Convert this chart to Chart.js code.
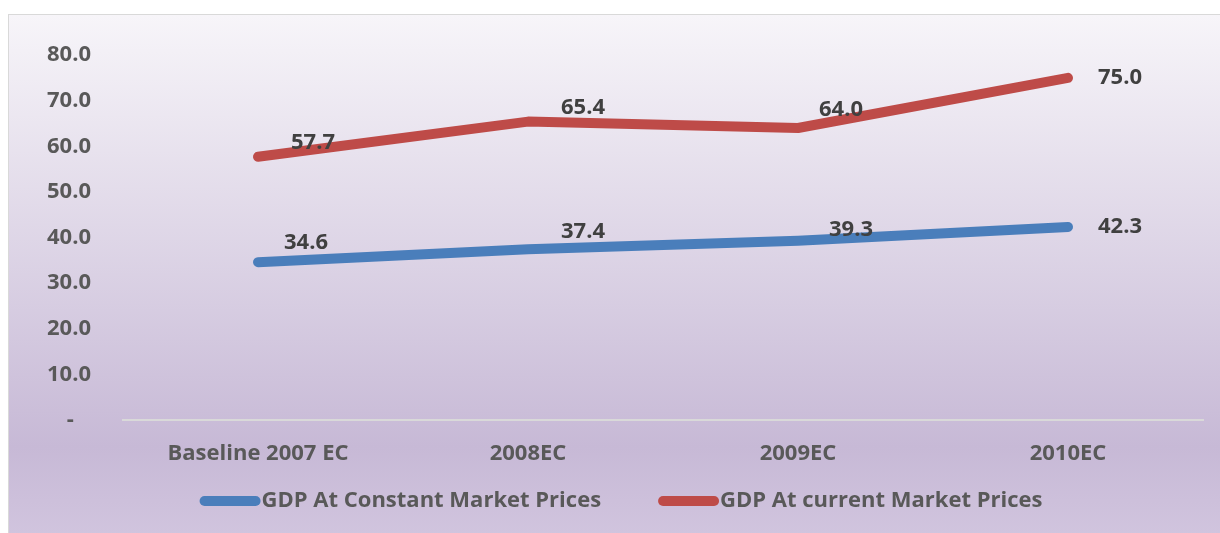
<!DOCTYPE html>
<html>
<head>
<meta charset="utf-8">
<script src="https://cdn.jsdelivr.net/npm/chart.js@4/dist/chart.umd.min.js"></script>
<style>
  html, body { margin:0; padding:0; background:#fff; overflow:hidden; }
  #frame {
    position:absolute; left:8px; top:14px; width:1226px; height:540px;
    border:1px solid #d9d9d9;
    background:linear-gradient(to bottom, #f7f5f9 0%, #c7b9d6 80%, #d3c7e0 100%);
  }
  #frame canvas { display:block; }
</style>
</head>
<body>
<div id="frame"><canvas id="gdp" width="1226" height="540"></canvas></div>
<script>
// categories + series
const years = ['Baseline 2007 EC', '2008EC', '2009EC', '2010EC'];
const gdpConstant = [34.6, 37.4, 39.3, 42.3];
const gdpCurrent = [57.7, 65.4, 64.0, 75.0];
const yTicks = [0, 10, 20, 30, 40, 50, 60, 70, 80];

const FONT = '"Open Sans", sans-serif';
const FSIZE = 22;

// value labels sit next to each point, nudged the way Excel placed them
const pointLabels = {
  id: 'pointLabels',
  afterDatasetsDraw(chart, args, opts) {
    const { ctx } = chart;
    ctx.save();
    ctx.font = `bold ${FSIZE}px ${FONT}`;
    ctx.fillStyle = '#404040';
    ctx.textAlign = 'center';
    ctx.textBaseline = 'middle';
    chart.data.datasets.forEach((ds, i) => {
      const meta = chart.getDatasetMeta(i);
      const offs = opts.offsets[i] || [];
      meta.data.forEach((pt, j) => {
        const [dx, dy] = offs[j] || [50, -15];
        ctx.fillText(ds.data[j].toFixed(1), pt.x + dx, pt.y + dy);
      });
    });
    ctx.restore();
  }
};

// Excel-style legend: fat round-capped line glued to the label
const lineLegend = {
  id: 'lineLegend',
  afterDraw(chart, args, opts) {
    const { ctx } = chart;
    const sets = chart.data.datasets;
    ctx.save();
    ctx.font = `bold ${FSIZE}px ${FONT}`;
    const widths = sets.map(ds => ctx.measureText(ds.label).width);
    const itemW = widths.map(w => opts.lineLen + 10 + opts.textGap + w);
    const total = itemW.reduce((a, b) => a + b, 0) + opts.itemGap * (sets.length - 1);
    let x = opts.centerX - total / 2;
    const y = opts.y;
    sets.forEach((ds, i) => {
      ctx.strokeStyle = ds.borderColor;
      ctx.lineWidth = 10;
      ctx.lineCap = 'round';
      ctx.beginPath();
      ctx.moveTo(x + 5, y);
      ctx.lineTo(x + 5 + opts.lineLen, y);
      ctx.stroke();
      ctx.fillStyle = '#595959';
      ctx.textAlign = 'left';
      ctx.textBaseline = 'middle';
      ctx.fillText(ds.label, x + opts.lineLen + 10 + opts.textGap, y);
      x += itemW[i] + opts.itemGap;
    });
    ctx.restore();
  }
};

new Chart(document.getElementById('gdp'), {
  type: 'line',
  data: {
    labels: years,
    datasets: [
      {
        label: 'GDP At Constant Market Prices',
        data: gdpConstant,
        borderColor: '#4a7ebb',
        backgroundColor: '#4a7ebb',
        borderWidth: 10,
        borderCapStyle: 'round',
        borderJoinStyle: 'round',
        pointRadius: 0,
        tension: 0
      },
      {
        label: 'GDP At current Market Prices',
        data: gdpCurrent,
        borderColor: '#be4b48',
        backgroundColor: '#be4b48',
        borderWidth: 10,
        borderCapStyle: 'round',
        borderJoinStyle: 'round',
        pointRadius: 0,
        tension: 0
      }
    ]
  },
  options: {
    responsive: false,
    animation: false,
    layout: { autoPadding: false, padding: { top: 40, right: 32, bottom: 85, left: 0 } },
    plugins: {
      legend: { display: false },
      tooltip: { enabled: false },
      lineLegend: { centerX: 612, y: 486, lineLen: 51, textGap: 1, itemGap: 57 },
      pointLabels: {
        offsets: [
          [[48, -19], [55, -18], [53, -11], [52, 0]],
          [[55, -14], [55, -14], [43, -18], [52, 0]]
        ]
      }
    },
    scales: {
      x: {
        offset: true,
        afterFit(s) { s.height = 50; s.paddingLeft = 0; s.paddingRight = 0; },
        grid: { display: false, drawTicks: false, offset: true },
        border: { display: true, color: '#d9d9d9', width: 2 },
        ticks: {
          padding: 21,
          maxRotation: 0,
          color: '#595959',
          font: { family: FONT, size: FSIZE, weight: 'bold' }
        }
      },
      y: {
        min: 0,
        max: 80,
        afterFit(s) { s.width = 114; s.paddingTop = 0; s.paddingBottom = 0; },
        afterBuildTicks(s) { s.ticks = yTicks.map(v => ({ value: v })); },
        grid: { display: false, drawTicks: false },
        border: { display: false },
        ticks: {
          padding: 32,
          color: '#595959',
          font: { family: FONT, size: FSIZE, weight: 'bold' },
          callback: v => (v === 0 ? '-   ' : v.toFixed(1))
        }
      }
    }
  },
  plugins: [pointLabels, lineLegend]
});
</script>
</body>
</html>
